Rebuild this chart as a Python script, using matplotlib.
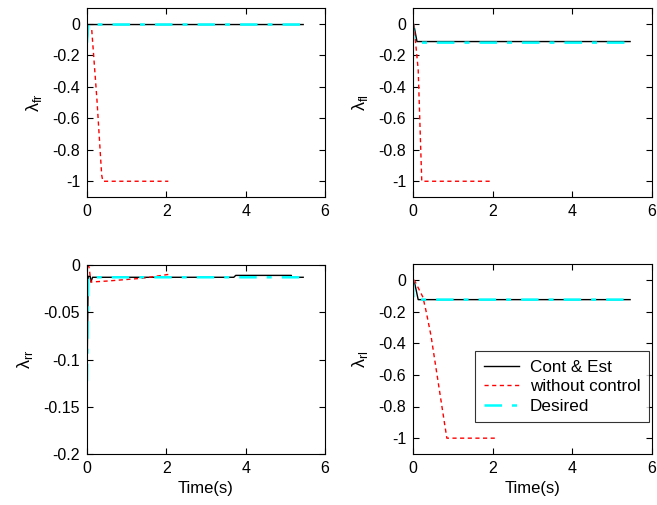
import matplotlib
matplotlib.use('Agg')
import matplotlib.pyplot as plt

plt.rcParams['font.family'] = ['Liberation Sans', 'DejaVu Sans']
plt.rcParams['mathtext.fontset'] = 'custom'
plt.rcParams['mathtext.rm'] = 'Liberation Sans'
plt.rcParams['mathtext.it'] = 'Liberation Sans'

# --- data ---
# lambda_fr
fr_ctrl_t = [0, 0.03, 5.45]
fr_ctrl_y = [-0.12, -0.005, -0.005]
fr_free_t = [0.12, 0.25, 0.37, 0.4, 2.05]
fr_free_y = [-0.04, -0.48, -0.96, -1.0, -1.0]
fr_des_t = [0, 0.03, 5.45]
fr_des_y = [-0.12, -0.005, -0.005]

# lambda_fl
fl_ctrl_t = [0, 0.03, 0.1, 5.45]
fl_ctrl_y = [0, -0.02, -0.113, -0.113]
fl_free_t = [0.02, 0.13, 0.22, 2.0]
fl_free_y = [0, -0.29, -1.0, -1.0]
fl_des_t = [0, 0.01, 5.45]
fl_des_y = [0, -0.12, -0.12]

# lambda_rr
rr_ctrl_t = [0, 0.03, 0.08, 0.1, 0.14, 3.7, 3.75, 5.15, 5.16, 5.45]
rr_ctrl_y = [-0.123, -0.012, -0.012, -0.018, -0.013, -0.013, -0.011, -0.011, -0.013, -0.013]
rr_free_t = [0, 0.05, 0.1, 0.5, 1.4, 2.05]
rr_free_y = [0, -0.002, -0.018, -0.017, -0.014, -0.010]
rr_des_t = [0, 0.03, 5.45]
rr_des_y = [-0.123, -0.013, -0.013]

# lambda_rl
rl_ctrl_t = [0, 0.05, 0.13, 5.45]
rl_ctrl_y = [0, -0.03, -0.125, -0.125]
rl_free_t = [0.03, 0.25, 0.33, 0.45, 0.8, 0.85, 2.06]
rl_free_y = [0, -0.11, -0.2, -0.35, -0.92, -1.0, -1.0]
rl_des_t = [0, 0.01, 5.45]
rl_des_y = [0, -0.125, -0.125]

panels = [
    ('fr', fr_ctrl_t, fr_ctrl_y, fr_free_t, fr_free_y, fr_des_t, fr_des_y, (-1.1, 0.1), [0, -0.2, -0.4, -0.6, -0.8, -1]),
    ('fl', fl_ctrl_t, fl_ctrl_y, fl_free_t, fl_free_y, fl_des_t, fl_des_y, (-1.1, 0.1), [0, -0.2, -0.4, -0.6, -0.8, -1]),
    ('rr', rr_ctrl_t, rr_ctrl_y, rr_free_t, rr_free_y, rr_des_t, rr_des_y, (-0.2, 0.0), [0, -0.05, -0.1, -0.15, -0.2]),
    ('rl', rl_ctrl_t, rl_ctrl_y, rl_free_t, rl_free_y, rl_des_t, rl_des_y, (-1.1, 0.1), [0, -0.2, -0.4, -0.6, -0.8, -1]),
]

W, H = 657, 505
fig = plt.figure(figsize=(W / 100, H / 100), dpi=100)

# axes boxes in pixels: left, top, right, bottom
boxes = [(87, 8, 325, 197), (413, 8, 652, 197), (87, 265, 325, 454), (413, 264, 652, 454)]

for i, (name, ct, cy, ft, fy, dt, dy, ylim, yt) in enumerate(panels):
    l, t, r, b = boxes[i]
    ax = fig.add_axes([l / W, 1 - b / H, (r - l) / W, (b - t) / H])
    ax.plot(ct, cy, color='black', lw=1.0, label='Cont & Est')
    ax.plot(ft, fy, color='red', lw=1.0, ls=(0, (3, 2.5)), label='without control')
    ax.plot(dt, dy, color='cyan', lw=1.8, ls=(0, (7, 4, 2, 4)), label='Desired')
    ax.set_xlim(0, 6)
    ax.set_ylim(*ylim)
    ax.set_xticks([0, 2, 4, 6])
    ax.set_yticks(yt)
    ax.set_yticklabels([f'{v:g}' for v in yt])
    ax.tick_params(direction='in', top=True, right=True, labelsize=11.5, length=4, pad=5)
    ax.set_ylabel(r'$\lambda_{\mathrm{' + name + '}}$', fontsize=13, labelpad=6)
    for s in ax.spines.values():
        s.set_linewidth(0.8)
    if i >= 2:
        ax.set_xlabel('Time(s)', fontsize=12, labelpad=4)
    if i == 3:
        leg = ax.legend(loc='lower right', bbox_to_anchor=(0.987, 0.168), fontsize=12.3,
                        frameon=True, fancybox=False, edgecolor='black',
                        borderpad=0.5, borderaxespad=0, handlelength=2.1,
                        handletextpad=0.6, labelspacing=0.25)
        leg.get_frame().set_linewidth(0.8)

fig.savefig('out.png', dpi=100)
